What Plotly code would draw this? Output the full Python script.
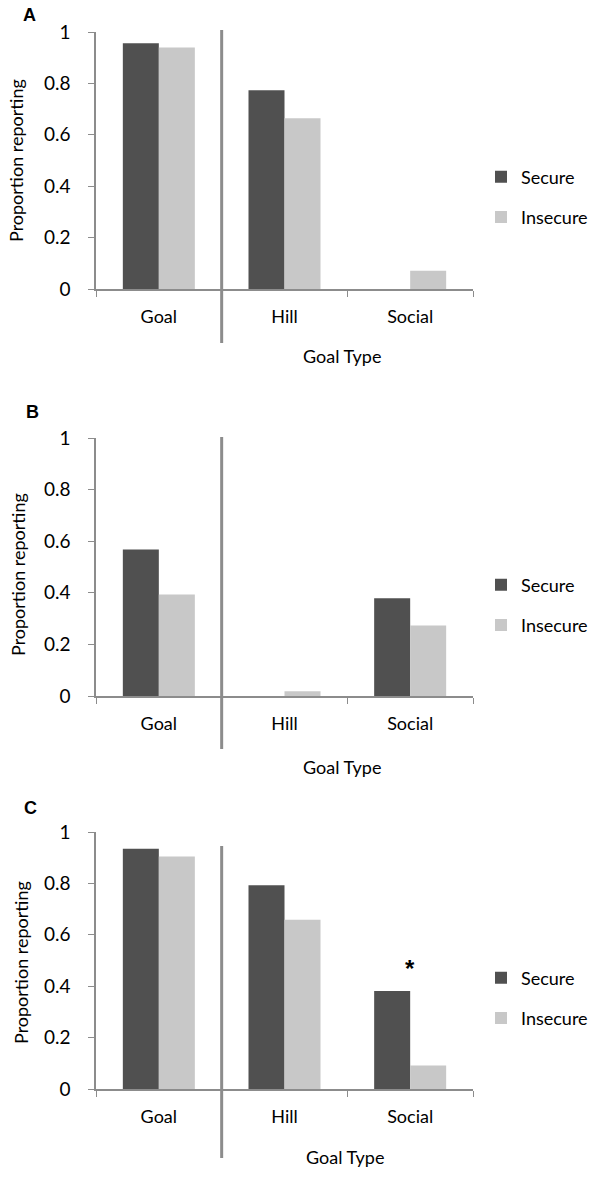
import plotly.graph_objects as go

categories = ["Goal", "Hill", "Social"]
series_names = ["Secure", "Insecure"]
panel_labels = ["A", "B", "C"]

secure_a = [0.956, 0.773, 0.0]
insecure_a = [0.940, 0.664, 0.071]
secure_b = [0.568, 0.0, 0.379]
insecure_b = [0.393, 0.018, 0.273]
secure_c = [0.935, 0.793, 0.381]
insecure_c = [0.905, 0.659, 0.091]

y_ticks = [0, 0.2, 0.4, 0.6, 0.8, 1]
y_ticktext = ["0", "0.2", "0.4", "0.6", "0.8", "1"]

W, H = 607, 1183
FONT = "Lato"
DARK = "#505050"
LIGHT = "#c8c8c8"
AXIS = "#8c8c8c"

def py(px):
    # pixel row from top -> paper y
    return 1 - px / H

def pxx(px):
    return px / W

panels = [
    dict(sec=secure_a, ins=insecure_a, top=32, bot=289, div=(30, 343), leg=197,
         ytitle=161, ytx=16, xtitle=(342, 356), lab=(29, 15)),
    dict(sec=secure_b, ins=insecure_b, top=438, bot=696, div=(437, 749), leg=605,
         ytitle=575, ytx=18, xtitle=(342, 767), lab=(32, 412)),
    dict(sec=secure_c, ins=insecure_c, top=832, bot=1089, div=(846, 1158), leg=998,
         ytitle=963, ytx=21, xtitle=(345, 1157), lab=(30, 808)),
]

fig = go.Figure()
shapes = []
annotations = []
layout = {}

for i, p in enumerate(panels):
    n = "" if i == 0 else str(i + 1)
    xa, ya = "x" + n, "y" + n
    leg = "legend" + n
    for name, vals, col in [("Secure", p["sec"], DARK), ("Insecure", p["ins"], LIGHT)]:
        fig.add_trace(go.Bar(x=categories, y=vals, name=name, marker_color=col,
                             marker_line_width=0, xaxis=xa, yaxis=ya,
                             legend=leg, legendgroup=name + n, showlegend=True))

    layout["xaxis" + n] = dict(domain=[pxx(96), pxx(473)], anchor=ya,
                               range=[-0.5, 2.5], type="category",
                               showline=True, linecolor=AXIS, linewidth=1.5,
                               ticks="outside", tickson="boundaries", ticklen=6,
                               tickcolor=AXIS, ticklabelstandoff=11,
                               tickfont=dict(family=FONT, size=18, color="black"),
                               showgrid=False, zeroline=False, fixedrange=True)
    layout["yaxis" + n] = dict(domain=[py(p["bot"]), py(p["top"])], anchor=xa,
                               range=[0, 1], tickvals=y_ticks, ticktext=y_ticktext,
                               showline=True, linecolor=AXIS, linewidth=1.5,
                               ticks="outside", ticklen=6, tickcolor=AXIS,
                               ticklabelstandoff=14,
                               tickfont=dict(family=FONT, size=19, color="black"),
                               showgrid=False, zeroline=False, fixedrange=True)
    layout[leg] = dict(x=pxx(481), xanchor="left", y=py(p["leg"]), yanchor="middle",
                       font=dict(family=FONT, size=18, color="black"),
                       traceorder="grouped", tracegroupgap=14,
                       bgcolor="rgba(0,0,0,0)")

    # divider between Goal and the other categories
    shapes.append(dict(type="line", xref=xa, yref="paper", x0=0.5, x1=0.5,
                       y0=py(p["div"][0]), y1=py(p["div"][1]),
                       line=dict(color=AXIS, width=3)))

    annotations.append(dict(text="Proportion reporting", textangle=-90,
                            xref="paper", yref="paper", x=pxx(p["ytx"]), y=py(p["ytitle"]),
                            xanchor="center", yanchor="middle", showarrow=False,
                            font=dict(family=FONT, size=18, color="black")))
    annotations.append(dict(text="Goal Type", xref="paper", yref="paper",
                            x=pxx(p["xtitle"][0]), y=py(p["xtitle"][1]),
                            xanchor="center", yanchor="middle", showarrow=False,
                            font=dict(family=FONT, size=18, color="black")))
    annotations.append(dict(text="<b>" + panel_labels[i] + "</b>", xref="paper", yref="paper",
                            x=pxx(p["lab"][0]), y=py(p["lab"][1]),
                            xanchor="center", yanchor="middle", showarrow=False,
                            font=dict(family="Liberation Sans", size=18, color="black")))

# significance marker on panel C
annotations.append(dict(text="<b>*</b>", xref="x3", yref="y3", x="Social", y=0.47,
                        xanchor="center", yanchor="middle", showarrow=False,
                        font=dict(family="Liberation Sans", size=24, color="black")))

# autoexpand off so legends/labels don't shrink the panels
fig.update_layout(width=W, height=H,
                  margin=dict(l=0, r=0, t=0, b=0, autoexpand=False),
                  paper_bgcolor="white", plot_bgcolor="white",
                  barmode="group", bargap=0.427, bargroupgap=0,
                  shapes=shapes, annotations=annotations, **layout)

# drop the default page margin so the figure sits at the window origin
fig.write_html("out.html", post_script="document.body.style.margin='0';",
               config={"displayModeBar": False})
